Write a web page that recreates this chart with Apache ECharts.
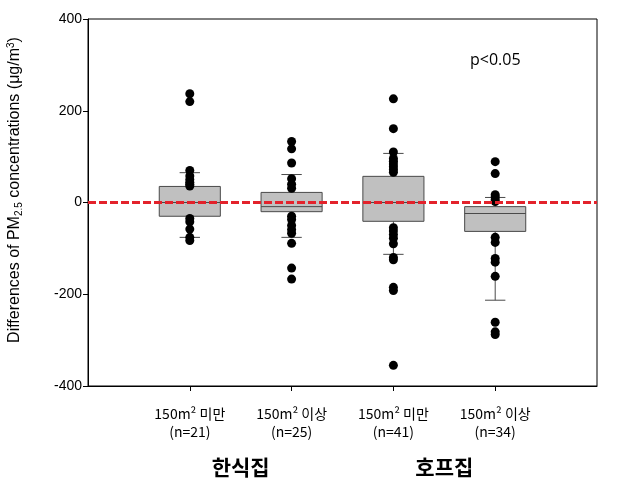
<!DOCTYPE html>
<html>
<head>
<meta charset="utf-8">
<script src="https://cdn.jsdelivr.net/npm/echarts@6/dist/echarts.min.js"></script>
<style>
  html, body { margin: 0; padding: 0; background: #fff; }
  #chart { width: 627px; height: 488px; }
</style>
</head>
<body>
<div id="chart"></div>
<script>
// 각 그룹 (x 위치 1~4)
const groupNames = ['150m² 미만', '150m² 이상', '150m² 미만', '150m² 이상']
const groupCounts = [21, 25, 41, 34]
const placeNames = ['한식집', '호프집']

// 상자 통계 (10th / 25th / 50th / 75th / 90th)
const whiskerLow = [-76, -76, -113, -213]
const q1 = [-30, -20, -41, -63]
const median = [0, -9, 0, -24]
const q3 = [35, 22, 57, -9]
const whiskerHigh = [65, 61, 107, 11]

// 개별 점
const points1 = [237, 220, 70, 58, 50, 44, 40, 36, -35, -42, -58, -76, -83]
const points2 = [133, 117, 86, 52, 40, 31, -30, -37, -50, -59, -67, -89, -143, -167]
const points3 = [226, 161, 110, 96, 90, 84, 78, 72, 66, -55, -62, -70, -78, -90, -120, -125, -185, -192, -355]
const points4 = [89, 63, 17, 12, 6, 2, -76, -87, -122, -130, -161, -261, -282, -288]

const yTicks = [-400, -200, 0, 200, 400]
const refValue = 0

const allPoints = [points1, points2, points3, points4]
const scatterData = []
allPoints.forEach((arr, i) => {
  arr.forEach((v) => scatterData.push([i + 1, v]))
})

const boxData = groupNames.map((_, i) => [i + 1, whiskerLow[i], q1[i], median[i], q3[i], whiskerHigh[i]])

const chart = echarts.init(document.getElementById('chart'))

const renderBox = (params, api) => {
  const x = api.value(0)
  const halfW = 0.3
  const capW = 0.1
  const pLow = api.coord([x, api.value(1)])
  const pQ1 = api.coord([x, api.value(2)])
  const pMed = api.coord([x, api.value(3)])
  const pQ3 = api.coord([x, api.value(4)])
  const pHigh = api.coord([x, api.value(5)])
  const left = api.coord([x - halfW, 0])[0]
  const right = api.coord([x + halfW, 0])[0]
  const capL = api.coord([x - capW, 0])[0]
  const capR = api.coord([x + capW, 0])[0]
  const stroke = { stroke: '#4a4a4a', lineWidth: 1 }
  return {
    type: 'group',
    children: [
      { type: 'line', shape: { x1: pQ3[0], y1: pQ3[1], x2: pHigh[0], y2: pHigh[1] }, style: stroke },
      { type: 'line', shape: { x1: pQ1[0], y1: pQ1[1], x2: pLow[0], y2: pLow[1] }, style: stroke },
      { type: 'line', shape: { x1: capL, y1: pHigh[1], x2: capR, y2: pHigh[1] }, style: stroke },
      { type: 'line', shape: { x1: capL, y1: pLow[1], x2: capR, y2: pLow[1] }, style: stroke },
      {
        type: 'rect',
        shape: { x: left, y: pQ3[1], width: right - left, height: pQ1[1] - pQ3[1] },
        style: { fill: '#c0c0c0', stroke: '#4a4a4a', lineWidth: 1 },
      },
      { type: 'line', shape: { x1: left, y1: pMed[1], x2: right, y2: pMed[1] }, style: stroke },
    ],
  }
}

const option = {
  animation: false,
  grid: {
    left: 88,
    right: 30,
    top: 19,
    bottom: 102,
    show: true,
    borderColor: '#000',
    borderWidth: 1,
  },
  xAxis: {
    type: 'value',
    min: 0,
    max: 5,
    interval: 1,
    splitLine: { show: false },
    axisLine: { onZero: false, lineStyle: { color: '#000', width: 1 } },
    axisTick: { length: 5, lineStyle: { color: '#000' }, customValues: [1, 2, 3, 4] },
    axisLabel: {
      customValues: [1, 2, 3, 4],
      margin: 19,
      color: '#000',
      fontSize: 14,
      lineHeight: 18,
      fontFamily: 'Noto Sans CJK KR',
      formatter: (v) => {
        const i = Math.round(v) - 1
        return groupNames[i] + '\n(n=' + groupCounts[i] + ')'
      },
    },
  },
  yAxis: {
    type: 'value',
    min: -400,
    max: 400,
    interval: 200,
    splitLine: { show: false },
    axisLine: { show: true, onZero: false, lineStyle: { color: '#000', width: 1 } },
    axisTick: { show: true, length: 5, lineStyle: { color: '#000' } },
    axisLabel: {
      color: '#000',
      fontSize: 14,
      margin: 6,
      fontFamily: 'Liberation Sans',
      formatter: (v) => (yTicks.includes(v) ? String(v) : ''),
    },
  },
  series: [
    {
      type: 'custom',
      renderItem: renderBox,
      data: boxData,
      encode: { x: 0, y: [1, 2, 3, 4, 5] },
      z: 2,
    },
    {
      type: 'scatter',
      data: scatterData,
      symbolSize: 9,
      itemStyle: { color: '#000', opacity: 1 },
      z: 3,
    },
    {
      type: 'line',
      data: [[0, refValue], [5, refValue]],
      symbol: 'none',
      silent: true,
      lineStyle: { color: '#e3222b', width: 3, type: [8, 3] },
      z: 5,
    },
  ],
}

chart.setOption(option)

// 그룹 이름 / 축 이름 / p 값
const g1 = chart.convertToPixel({ gridIndex: 0 }, [1.5, -400])
const g2 = chart.convertToPixel({ gridIndex: 0 }, [3.5, -400])

const titleFont = { fontFamily: 'Liberation Sans', fill: '#000' }

chart.setOption({
  graphic: [
    {
      type: 'text',
      x: 15,
      y: 190,
      rotation: Math.PI / 2,
      style: {
        text: '{a|Differences of PM}{sub|2.5}{a| concentrations (μg/m}{sup|3}{a|)}',
        align: 'center',
        verticalAlign: 'middle',
        rich: {
          a: Object.assign({ fontSize: 16 }, titleFont),
          sub: Object.assign({ fontSize: 10, padding: [8, 0, 0, 0] }, titleFont),
          sup: Object.assign({ fontSize: 10, padding: [0, 0, 8, 0] }, titleFont),
        },
      },
    },
    {
      type: 'text',
      x: g1[0],
      y: 467,
      style: {
        text: placeNames[0],
        align: 'center',
        verticalAlign: 'middle',
        fontSize: 21,
        fontWeight: 'bold',
        fontFamily: 'Noto Sans CJK KR',
        fill: '#000',
      },
    },
    {
      type: 'text',
      x: g2[0],
      y: 467,
      style: {
        text: placeNames[1],
        align: 'center',
        verticalAlign: 'middle',
        fontSize: 21,
        fontWeight: 'bold',
        fontFamily: 'Noto Sans CJK KR',
        fill: '#000',
      },
    },
    {
      type: 'text',
      x: 470,
      y: 60,
      style: {
        text: 'p<0.05',
        align: 'left',
        verticalAlign: 'middle',
        fontSize: 16,
        fontFamily: 'Open Sans',
        fill: '#000',
      },
    },
  ],
})
</script>
</body>
</html>
